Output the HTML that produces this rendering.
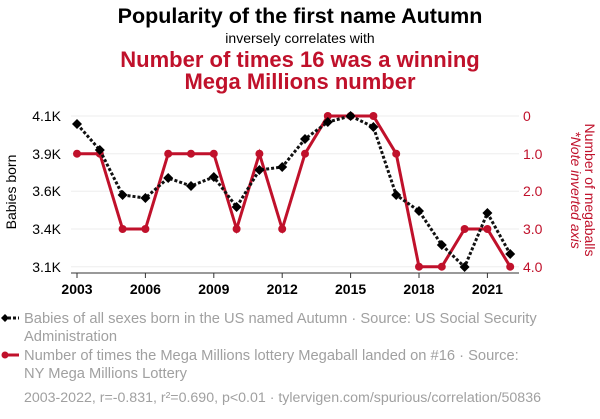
<!DOCTYPE html>
<html><head><meta charset="utf-8"><style>
body{margin:0;width:600px;height:414px;background:#fff;overflow:hidden;font-family:"Liberation Sans",Arial,sans-serif}
</style></head><body>
<svg width="600" height="414" xmlns="http://www.w3.org/2000/svg" font-family="Liberation Sans, Arial, sans-serif">
<text x="300" y="23" text-anchor="middle" font-size="21.5" font-weight="bold" fill="#000">Popularity of the first name Autumn</text>
<text x="300" y="43" text-anchor="middle" font-size="14" fill="#000">inversely correlates with</text>
<text x="300" y="67" text-anchor="middle" font-size="22" font-weight="bold" fill="#c0112b">Number of times 16 was a winning</text>
<text x="300" y="89" text-anchor="middle" font-size="22" font-weight="bold" fill="#c0112b">Mega Millions number</text>
<g stroke="#eee" stroke-width="1">
<line x1="71" x2="519" y1="116" y2="116"/><line x1="71" x2="519" y1="153.7" y2="153.7"/><line x1="71" x2="519" y1="191.3" y2="191.3"/><line x1="71" x2="519" y1="229" y2="229"/><line x1="71" x2="519" y1="266.7" y2="266.7"/>
</g>
<line x1="71" x2="519" y1="273" y2="273" stroke="#333"/>
<g stroke="#333"><line x1="77" x2="77" y1="273" y2="278"/><line x1="145.4" x2="145.4" y1="273" y2="278"/><line x1="213.8" x2="213.8" y1="273" y2="278"/><line x1="282.2" x2="282.2" y1="273" y2="278"/><line x1="350.6" x2="350.6" y1="273" y2="278"/><line x1="419" x2="419" y1="273" y2="278"/><line x1="487.4" x2="487.4" y1="273" y2="278"/></g>
<g font-size="14" fill="#000" text-anchor="middle" font-weight="bold">
<text x="77" y="294">2003</text><text x="145.4" y="294">2006</text><text x="213.8" y="294">2009</text><text x="282.2" y="294">2012</text><text x="350.6" y="294">2015</text><text x="419" y="294">2018</text><text x="487.4" y="294">2021</text>
</g>
<g font-size="14" fill="#000" text-anchor="end">
<text x="61" y="121">4.1K</text><text x="61" y="159">3.9K</text><text x="61" y="196">3.6K</text><text x="61" y="234">3.4K</text><text x="61" y="272">3.1K</text>
</g>
<g font-size="14" fill="#c0112b">
<text x="523" y="121">0</text><text x="523" y="159">1.0</text><text x="523" y="196">2.0</text><text x="523" y="234">3.0</text><text x="523" y="272">4.0</text>
</g>
<text transform="translate(16,192) rotate(-90)" text-anchor="middle" font-size="14" fill="#000">Babies born</text>
<text transform="translate(585,190) rotate(90)" text-anchor="middle" font-size="14" fill="#c0112b">Number of megaballs</text>
<text transform="translate(571,190) rotate(90)" text-anchor="middle" font-size="14" font-style="italic" fill="#c0112b">*Note inverted axis</text>
<polyline fill="none" stroke="#c0112b" stroke-width="3" points="77,153.7 99.8,153.7 122.6,229 145.4,229 168.2,153.7 191,153.7 213.8,153.7 236.6,229 259.4,153.7 282.2,229 305,153.7 327.8,116 350.6,116 373.4,116 396.2,153.7 419,266.7 441.8,266.7 464.6,229 487.4,229 510.2,266.7"/>
<g fill="#c0112b">
<circle cx="77" cy="153.7" r="4"/><circle cx="99.8" cy="153.7" r="4"/><circle cx="122.6" cy="229" r="4"/><circle cx="145.4" cy="229" r="4"/><circle cx="168.2" cy="153.7" r="4"/><circle cx="191" cy="153.7" r="4"/><circle cx="213.8" cy="153.7" r="4"/><circle cx="236.6" cy="229" r="4"/><circle cx="259.4" cy="153.7" r="4"/><circle cx="282.2" cy="229" r="4"/><circle cx="305" cy="153.7" r="4"/><circle cx="327.8" cy="116" r="4"/><circle cx="350.6" cy="116" r="4"/><circle cx="373.4" cy="116" r="4"/><circle cx="396.2" cy="153.7" r="4"/><circle cx="419" cy="266.7" r="4"/><circle cx="441.8" cy="266.7" r="4"/><circle cx="464.6" cy="229" r="4"/><circle cx="487.4" cy="229" r="4"/><circle cx="510.2" cy="266.7" r="4"/>
</g>
<polyline fill="none" stroke="#111" stroke-width="3" stroke-dasharray="3,2" points="77,124 99.8,150 122.6,195 145.4,198 168.2,178 191,186 213.8,177 236.6,207 259.4,170 282.2,167 305,139 327.8,122 350.6,116 373.4,127 396.2,195 419,211 441.8,245 464.6,267 487.4,213 510.2,254"/>
<g fill="#000">
<path d="M77,119l5,5l-5,5l-5,-5z"/><path d="M99.8,145l5,5l-5,5l-5,-5z"/><path d="M122.6,190l5,5l-5,5l-5,-5z"/><path d="M145.4,193l5,5l-5,5l-5,-5z"/><path d="M168.2,173l5,5l-5,5l-5,-5z"/><path d="M191,181l5,5l-5,5l-5,-5z"/><path d="M213.8,172l5,5l-5,5l-5,-5z"/><path d="M236.6,202l5,5l-5,5l-5,-5z"/><path d="M259.4,165l5,5l-5,5l-5,-5z"/><path d="M282.2,162l5,5l-5,5l-5,-5z"/><path d="M305,134l5,5l-5,5l-5,-5z"/><path d="M327.8,117l5,5l-5,5l-5,-5z"/><path d="M350.6,111l5,5l-5,5l-5,-5z"/><path d="M373.4,122l5,5l-5,5l-5,-5z"/><path d="M396.2,190l5,5l-5,5l-5,-5z"/><path d="M419,206l5,5l-5,5l-5,-5z"/><path d="M441.8,240l5,5l-5,5l-5,-5z"/><path d="M464.6,262l5,5l-5,5l-5,-5z"/><path d="M487.4,208l5,5l-5,5l-5,-5z"/><path d="M510.2,249l5,5l-5,5l-5,-5z"/>
</g>
<line x1="3" x2="19" y1="318" y2="318" stroke="#111" stroke-width="3" stroke-dasharray="3,2"/>
<path d="M5,314l4,4l-4,4l-4,-4z" fill="#000"/>
<line x1="3" x2="19" y1="355" y2="355" stroke="#c0112b" stroke-width="3"/>
<circle cx="5" cy="355" r="3.5" fill="#c0112b"/>
<g font-size="14.7" fill="#a0a0a0">
<text x="24" y="323">Babies of all sexes born in the US named Autumn · Source: US Social Security</text>
<text x="24" y="341">Administration</text>
<text x="24" y="360">Number of times the Mega Millions lottery Megaball landed on #16 · Source:</text>
<text x="24" y="378">NY Mega Millions Lottery</text>
</g>
<text x="24" y="402" font-size="14.2" fill="#a0a0a0">2003-2022, r=-0.831, r²=0.690, p&lt;0.01 · tylervigen.com/spurious/correlation/50836</text>
</svg>
</body></html>
